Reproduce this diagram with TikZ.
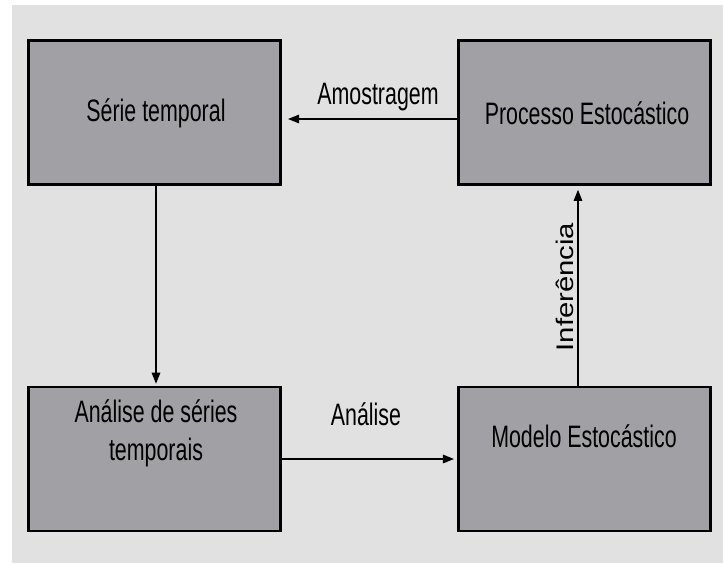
\documentclass[tikz,border=0pt]{standalone}
\usepackage{fontspec}
\setmainfont[FakeStretch=0.69]{Liberation Sans}
\newfontfamily\infont[FakeStretch=1.22]{Liberation Sans}
\usetikzlibrary{arrows.meta,calc}
\definecolor{bggray}{RGB}{225,225,225}
\definecolor{boxgray}{RGB}{161,160,165}
\tikzset{
  box/.style={draw=black, line width=2.6pt, fill=boxgray, minimum width=252.5pt, minimum height=144pt, inner sep=0pt},
  boxtext/.style={font=\fontsize{31}{38}\selectfont, align=center, inner sep=0pt},
  lbl/.style={font=\fontsize{31}{38}\selectfont, inner sep=0pt},
  arr/.style={line width=1.4pt, -{Triangle[length=11pt,width=8.5pt]}}
}
\begin{document}
\begin{tikzpicture}[x=1pt,y=-1pt]
\useasboundingbox (0,0) rectangle (723,563);
\fill[white] (0,0) rectangle (723,563);
\fill[bggray] (12,5) rectangle (723,563);
\node[box] (ST) at (154.5,112.5) {};
\node[box] (PE) at (584.5,112.5) {};
\node[box] (AS) at (154.5,459) {};
\node[box] (ME) at (584.5,459) {};
\node[boxtext] (tST) at (156,113) {Série temporal};
\node[boxtext] (tPE) at (587,113) {Processo Estocástico};
\node[boxtext] (tAS) at (156,433) {Análise de séries\\temporais};
\node[boxtext] (tME) at (584,436) {Modelo Estocástico};
\draw[arr, shorten >=6pt] ([yshift=-6.5pt]PE.west) -- ([yshift=-6.5pt]ST.east);
\draw[arr, shorten >=2pt] ([xshift=1.5pt]ST.south) -- ([xshift=1.5pt]AS.north);
\draw[arr, shorten >=3pt] (AS.east) -- (ME.west);
\draw[arr, shorten >=4pt] ([xshift=-6.5pt]ME.north) -- ([xshift=-6.5pt]PE.south);
\node[lbl] (lA) at (378,97) {Amostragem};
\node[lbl] (lB) at (366,414) {Análise};
\node[inner sep=0pt, rotate=90, font=\infont\fontsize{24}{28}\selectfont] (lC) at (565,287) {Inferência};
\end{tikzpicture}
\end{document}
